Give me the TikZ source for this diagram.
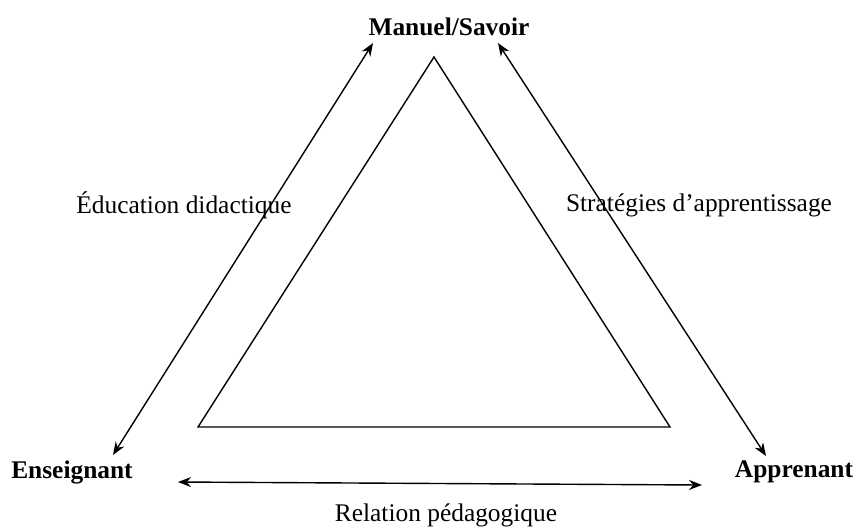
\documentclass[tikz,border=0pt]{standalone}
\usepackage{fontspec}
\setmainfont{Liberation Serif}
\usepackage{tikz}
\usetikzlibrary{arrows.meta}
\tikzset{
    every node/.style={font=\fontsize{12.7}{15}\selectfont, inner sep=0pt},
    pole/.style={font=\fontsize{12.7}{15}\selectfont\bfseries},
    link/.style={{Stealth[length=6.5pt,width=5pt]}-{Stealth[length=6.5pt,width=5pt]}, line width=0.7pt}
}
\begin{document}
\begin{tikzpicture}[x=0.5pt, y=-0.5pt]
            \useasboundingbox (0,0) rectangle (857,527);
            % poles
            \node[pole] (savoir) at (449,27) {Manuel/Savoir};
            \node[pole] (ens) at (72,472) {Enseignant};
            \node[pole] (app) at (794,472) {Apprenant};
            % relations
            \node (edu) at (184,205) {Éducation didactique};
            \node (strat) at (699,205) {Stratégies d’apprentissage};
            \node (rel) at (446,515) {Relation pédagogique};
            % arrow ends
            \coordinate (sl) at (373,43);
            \coordinate (sr) at (498,43);
            \coordinate (el) at (113,455);
            \coordinate (eb) at (178,482);
            \coordinate (ab) at (702,485);
            \coordinate (ar) at (766,456);
            % inner triangle
            \coordinate (top) at (434,57);
            \coordinate (bl) at (198,427);
            \coordinate (br) at (670,427);
            \draw[line width=0.7pt] (top) -- (bl) -- (br) -- cycle;
            \draw[link] (sl) -- (el);
            \draw[link] (sr) -- (ar);
            \draw[link] (eb) -- (ab);
        \end{tikzpicture}
\end{document}
